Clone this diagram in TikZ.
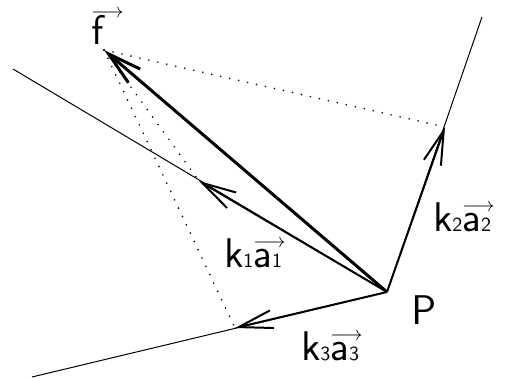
\documentclass[tikz,border=0pt]{standalone}
\usepackage{amsmath}
\usepackage{tikz}
\usetikzlibrary{arrows.meta}

% small arrow set close above its argument, left aligned
\newcommand{\vecof}[2][1.2pt]{\mathord{\vbox{\offinterlineskip
  \halign{##\hfil\cr$\scriptscriptstyle\longrightarrow$\cr
  \noalign{\kern#1}$#2$\cr}}}}
\newcommand{\sub}[1]{{\scriptscriptstyle\mathsf{#1}}}

\begin{document}
\begin{tikzpicture}[
    x=0.5pt,
    y=-0.5pt,
    >={Straight Barb[length=17pt,width=9pt]},
    axis/.style={line width=0.5pt},
    vec/.style={->, line width=1pt},
    force/.style={->, line width=1.5pt},
    proj/.style={line width=0.9pt, line cap=round, dash pattern=on 0pt off 4.6pt},
    lbl/.style={font=\fontsize{19.5pt}{24pt}\selectfont, inner sep=0pt, anchor=base west}
]
\useasboundingbox (0,0) rectangle (516,378);

\coordinate (P) at (387,292);
\coordinate (F) at (104,50);
\coordinate (t1) at (199,181);
\coordinate (t2) at (445,127);
\coordinate (t3) at (235,328);
\coordinate (e1) at (13,69);
\coordinate (e2) at (482,17);
\coordinate (e3) at (32,377);

% lines of action through P
\draw[axis] (P) -- (e1);
\draw[axis] (P) -- (e2);
\draw[axis] (P) -- (e3);

% components
\draw[vec] (P) -- (t1);
\draw[vec] (P) -- (t2);
\draw[vec] (P) -- (t3);

% resultant
\draw[force] (P) -- (F);

% dotted links to the tips
\draw[proj] (F) -- (t1);
\draw[proj] (F) -- (t2);
\draw[proj] (F) -- (t3);

\node[lbl] (f) at (91,45) {$\vecof[-0.8pt]{\mathsf{f}}$};
\node[lbl] (p) at (411,325) {$\mathsf{P}$};
\node[lbl] (k1) at (224,268) {$\mathsf{k}\sub{1}\vecof{\mathsf{a}\sub{1}}$};
\node[lbl] (k2) at (433,232) {$\mathsf{k}\sub{2}\vecof{\mathsf{a}\sub{2}}$};
\node[lbl] (k3) at (301,361) {$\mathsf{k}\sub{3}\vecof{\mathsf{a}\sub{3}}$};

\end{tikzpicture}
\end{document}
